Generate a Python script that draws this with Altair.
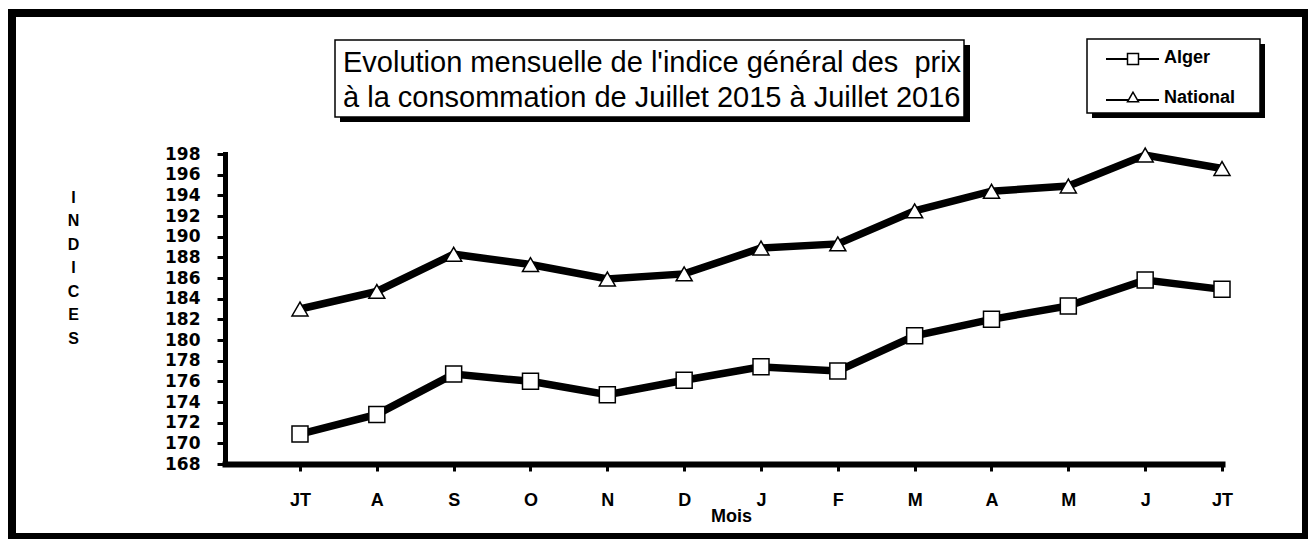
import altair as alt
import pandas as pd

# ---------------- data ----------------
MONTH_LABELS = ["JT", "A", "S", "O", "N", "D", "J", "F", "M", "A", "M", "J", "JT"]
ALGER = [170.9, 172.8, 176.7, 176.0, 174.7, 176.1, 177.4, 177.0, 180.4, 182.0, 183.3, 185.8, 184.9]
NATIONAL = [183.0, 184.7, 188.3, 187.3, 185.9, 186.4, 188.9, 189.3, 192.5, 194.4, 194.9, 197.9, 196.6]
SERIES = ["Alger", "National"]
Y_TICKS = list(range(168, 200, 2))
TITLE_LINES = ["Evolution mensuelle de l'indice général des \u00a0prix",
               "à la consommation de Juillet 2015 à Juillet 2016"]
Y_TITLE = list("INDICES")
X_TITLE = "Mois"

# page coordinates of the plot origin (used for decorations only)
OX, OY = 225, 154


def px(x):
    return x - OX


def py(y):
    return y - OY


rows = []
for i, (a, n) in enumerate(zip(ALGER, NATIONAL)):
    rows.append({"m": i, "series": SERIES[0], "v": a})
    rows.append({"m": i, "series": SERIES[1], "v": n})
df = pd.DataFrame(rows)

one = pd.DataFrame({"k": [0]})

label_expr = "[" + ",".join(f"'{m}'" for m in MONTH_LABELS) + "][datum.value]"

WIDE_FONT = "DejaVu Sans"
ARIAL = "Liberation Sans"

x_enc = alt.X(
    "m:Q",
    scale=alt.Scale(domain=[-0.976, 12], nice=False, zero=False),
    axis=alt.Axis(
        values=list(range(len(MONTH_LABELS))),
        tickCount=len(MONTH_LABELS),
        labelExpr=label_expr,
        title=X_TITLE,
        titleX=px(731), titleY=52, titleAlign="center", titleBaseline="middle",
        titleFont=ARIAL, titleFontSize=18, titleFontWeight="bold", titleColor="black",
        labelFont=ARIAL, labelFontSize=18, labelFontWeight="bold", labelColor="black",
        labelPadding=20, labelOverlap=False, labelFlush=False,
        grid=False, domainColor="black", domainWidth=6, domainCap="square",
        tickColor="black", tickWidth=3, tickSize=7,
    ),
)
y_enc = alt.Y(
    "v:Q",
    scale=alt.Scale(domain=[168, 198], nice=False, zero=False),
    axis=alt.Axis(
        values=Y_TICKS,
        tickCount=len(Y_TICKS),
        title=Y_TITLE,
        titleX=px(73), titleY=py(197), titleAngle=0, titleAlign="center",
        titleBaseline="middle", titleLineHeight=23.5,
        titleFont=ARIAL, titleFontSize=16, titleFontWeight="bold", titleColor="black",
        labelFont=WIDE_FONT, labelFontSize=17, labelFontWeight="bold", labelColor="black",
        labelPadding=17, labelOverlap=False, labelFlush=False,
        grid=False, domainColor="black", domainWidth=5, domainCap="square",
        tickColor="black", tickWidth=3, tickSize=8,
    ),
)

lines = alt.Chart(df).mark_line(color="black", strokeWidth=7.5).encode(
    x=x_enc, y=y_enc, detail="series:N"
)
points = alt.Chart(df).mark_point(
    filled=True, fill="white", stroke="black", strokeWidth=1.5, size=256, opacity=1
).encode(
    x=x_enc,
    y=y_enc,
    shape=alt.Shape("series:N", scale=alt.Scale(domain=SERIES, range=["square", "triangle-up"]),
                    legend=None),
)


def rect(x0, y0, x1, y1, **kw):
    return alt.Chart(one).mark_rect(**kw).encode(
        x=alt.value(px(x0)), x2=alt.value(px(x1)),
        y=alt.value(py(y0)), y2=alt.value(py(y1)),
    )


# outer frame
frame = [
    rect(8, 9, 1308, 17, color="black"),
    rect(8, 9, 16, 539, color="black"),
    rect(1302, 9, 1308, 539, color="black"),
    rect(8, 533, 1308, 539, color="black"),
]

# title box
title_layers = [
    rect(340, 45, 970, 122, color="black"),
    rect(335, 40, 964, 117, fill="white", stroke="black", strokeWidth=1.5),
]
for i, line in enumerate(TITLE_LINES):
    title_layers.append(
        alt.Chart(pd.DataFrame({"t": [line]})).mark_text(
            font=ARIAL, fontSize=29, color="black", align="left", baseline="alphabetic"
        ).encode(x=alt.value(px(343)), y=alt.value(py([72, 107][i])), text="t:N")
    )

# legend box
legend_layers = [
    rect(1092, 44, 1265, 118, color="black"),
    rect(1087, 39, 1260, 113, fill="white", stroke="black", strokeWidth=1.5),
]
leg_y = [59, 100]
leg_sym_y = [59, 97]
leg_txt_y = [58, 98]
shapes = ["square", "triangle-up"]
for i, s in enumerate(SERIES):
    legend_layers.append(
        alt.Chart(one).mark_rule(color="black", strokeWidth=2).encode(
            x=alt.value(px(1106)), x2=alt.value(px(1159)), y=alt.value(py(leg_y[i]))
        )
    )
    legend_layers.append(
        alt.Chart(one).mark_point(
            shape=shapes[i], filled=True, fill="white", stroke="black", strokeWidth=1.5,
            size=121, opacity=1
        ).encode(x=alt.value(px(1133)), y=alt.value(py(leg_sym_y[i])))
    )
    legend_layers.append(
        alt.Chart(pd.DataFrame({"t": [s]})).mark_text(
            font=ARIAL, fontSize=18, fontWeight="bold", color="black",
            align="left", baseline="middle"
        ).encode(x=alt.value(px(1164)), y=alt.value(py(leg_txt_y[i])), text="t:N")
    )

chart = alt.layer(
    *frame, lines, points, *title_layers, *legend_layers
).properties(
    width=997,
    height=310,
    padding={"left": 217, "top": 146, "right": 86, "bottom": 75},
    autosize=alt.AutoSizeParams(type="none"),
    background="white",
).configure_view(strokeWidth=0)

chart.save("out.html", embed_options={"renderer": "svg", "actions": False})
